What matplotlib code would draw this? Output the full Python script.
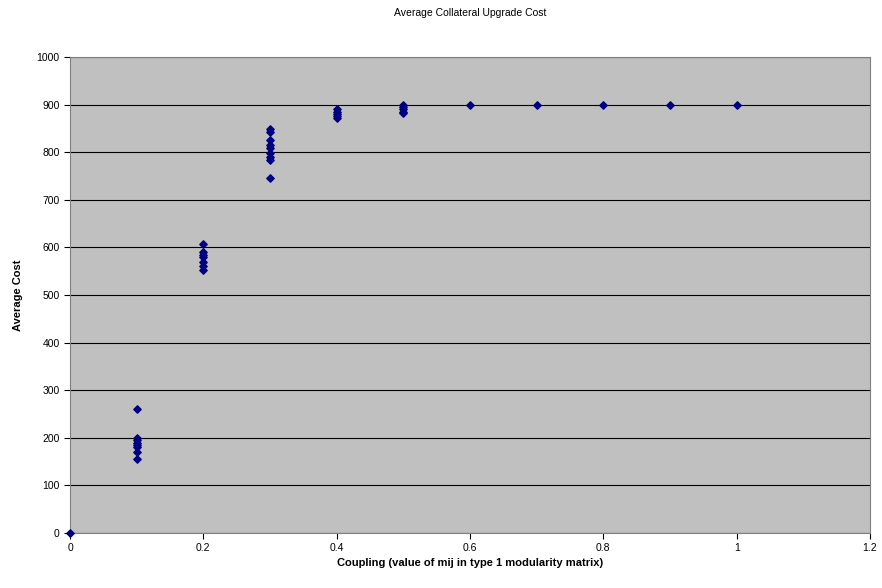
import matplotlib
matplotlib.use("Agg")
import matplotlib.pyplot as plt

plt.rcParams['font.family'] = ['Liberation Sans', 'DejaVu Sans']

# coupling values and average cost
x0 = [0.0]
y0 = [0]
x1 = [0.1] * 8
y1 = [260, 200, 195, 190, 185, 180, 170, 155]
x2 = [0.2] * 7
y2 = [607, 590, 585, 580, 570, 560, 553]
x3 = [0.3] * 9
y3 = [848, 843, 825, 815, 808, 798, 790, 783, 745]
x4 = [0.4] * 5
y4 = [890, 885, 880, 875, 872]
x5 = [0.5] * 5
y5 = [900, 895, 890, 885, 882]
x6 = [0.6, 0.7, 0.8, 0.9, 1.0]
y6 = [900, 900, 900, 900, 900]

xs = x0 + x1 + x2 + x3 + x4 + x5 + x6
ys = y0 + y1 + y2 + y3 + y4 + y5 + y6

fig = plt.figure(figsize=(8.82, 5.88), dpi=100)
ax = fig.add_axes([70/882, 1 - 533/588, 800/882, 476/588])
ax.set_facecolor('#C0C0C0')
ax.scatter(xs, ys, marker='D', s=14, color='#000080', zorder=3, clip_on=False)

ax.set_xlim(0, 1.2)
ax.set_ylim(0, 1000)
ax.set_xticks([0, 0.2, 0.4, 0.6, 0.8, 1, 1.2])
ax.set_xticklabels(['0', '0.2', '0.4', '0.6', '0.8', '1', '1.2'])
ax.set_yticks(range(0, 1001, 100))
ax.yaxis.grid(True, color='black', linewidth=0.8)
ax.set_axisbelow(True)
for s in ax.spines.values():
    s.set_color('#808080')
ax.tick_params(labelsize=7.5, length=4, direction='out')

ax.set_xlabel('Coupling (value of mij in type 1 modularity matrix)', fontsize=8, fontweight='bold', labelpad=3)
ax.set_ylabel('Average Cost', fontsize=8, fontweight='bold', labelpad=10)
fig.text(470/882, 1 - 13/588, 'Average Collateral Upgrade Cost', ha='center', va='center', fontsize=7.5)

fig.savefig('out.png', dpi=100)
